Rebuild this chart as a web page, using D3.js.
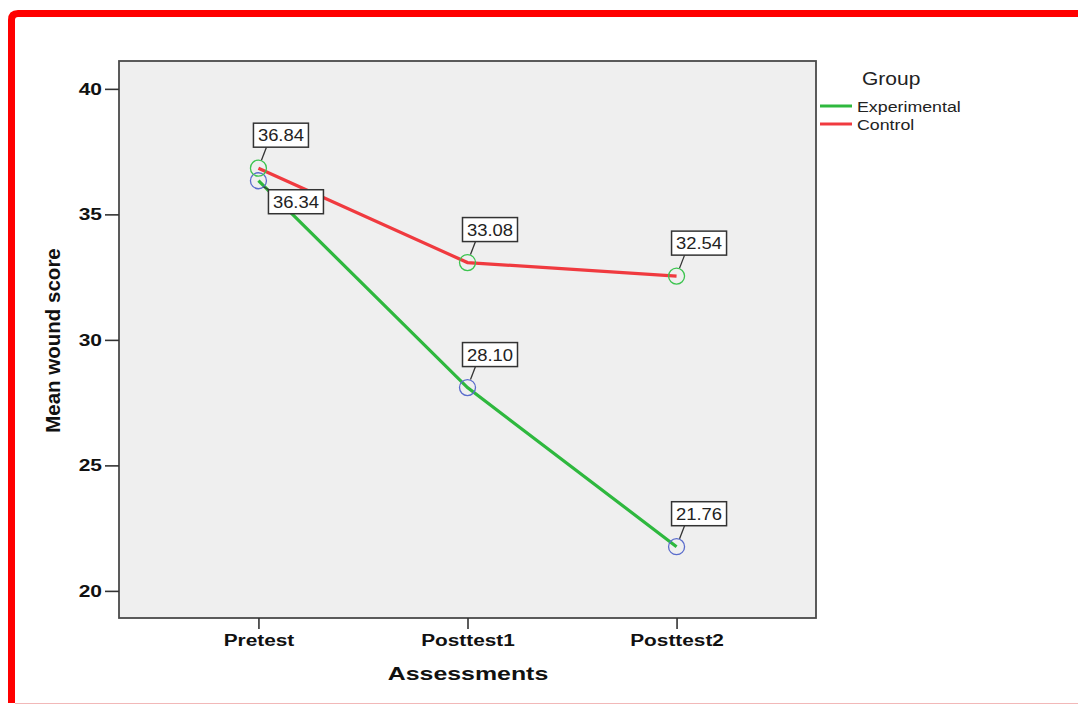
<!DOCTYPE html>
<html><head><meta charset="utf-8">
<script src="https://cdn.jsdelivr.net/npm/d3@7"></script>
<style>body{margin:0;background:#fff}svg{display:block}</style>
</head><body>
<svg id="c" width="1078" height="704"></svg>
<script>
const categories = ["Pretest", "Posttest1", "Posttest2"];
const experimental = [36.34, 28.10, 21.76];
const control = [36.84, 33.08, 32.54];
const yTicks = [20, 25, 30, 35, 40];
const seriesNames = ["Experimental", "Control"];

const font = "Liberation Sans, Arial, sans-serif";
// the reference is horizontally stretched; widen text glyphs accordingly
function stretch(sel, sx) {
  sel.each(function () {
    const w = this.getComputedTextLength();
    d3.select(this).attr("textLength", w * sx).attr("lengthAdjust", "spacingAndGlyphs");
  });
  return sel;
}

const svg = d3.select("#c");
// red frame
svg.append("path")
  .attr("d", "M11.5,703 L11.5,20 Q11.5,13.5 18,13.5 L1080,13.5")
  .attr("fill", "none").attr("stroke", "#ff0000").attr("stroke-width", 7);
svg.append("line").attr("x1", 15).attr("x2", 1078).attr("y1", 703.5).attr("y2", 703.5)
  .attr("stroke", "#f2b8b8").attr("stroke-width", 1);

const L = 119, R = 816, T = 61, B = 618;
const x = d3.scalePoint().domain(categories).range([L, R]).padding(0.667);
const y = d3.scaleLinear().domain([18.92, 41.11]).range([B, T]);

svg.append("rect").attr("x", L).attr("y", T).attr("width", R - L).attr("height", B - T)
  .attr("fill", "#efefef").attr("stroke", "#4a4a4a").attr("stroke-width", 1.8);

// y axis
const ya = svg.append("g").attr("transform", `translate(${L},0)`)
  .call(d3.axisLeft(y).tickValues(yTicks).tickSize(14).tickPadding(3));
ya.select(".domain").remove();
ya.selectAll("line").attr("stroke", "#333").attr("stroke-width", 1.6);
ya.selectAll("text").attr("font-family", font)
  .attr("font-size", 16.5).attr("font-weight", "bold").attr("fill", "#111");
stretch(ya.selectAll("text"), 1.27);

// x axis
const xa = svg.append("g").attr("transform", `translate(0,${B})`)
  .call(d3.axisBottom(x).tickSize(11).tickPadding(6));
xa.select(".domain").remove();
xa.selectAll("line").attr("stroke", "#333").attr("stroke-width", 1.6);
xa.selectAll("text").attr("font-family", font)
  .attr("font-size", 16).attr("font-weight", "bold").attr("fill", "#111");
stretch(xa.selectAll("text"), 1.3);

stretch(svg.append("text").attr("x", 468).attr("y", 680).attr("text-anchor", "middle")
  .attr("font-family", font).attr("font-size", 19)
  .attr("font-weight", "bold").attr("fill", "#111").text("Assessments"), 1.31);
svg.append("text").attr("transform", "translate(60,340.5) rotate(-90)").attr("text-anchor", "middle")
  .attr("font-family", font).attr("font-size", 20.5)
  .attr("font-weight", "bold").attr("fill", "#111").text("Mean wound score");

const series = [
  {name: seriesNames[0], values: experimental, line: "#2eb83e", marker: "#5a6ccc"},
  {name: seriesNames[1], values: control, line: "#f03a3f", marker: "#3cc44f"}
];
const lineGen = d3.line().x((d, i) => x(categories[i])).y(d => y(d));
series.forEach(s => {
  svg.append("path").attr("d", lineGen(s.values)).attr("fill", "none")
    .attr("stroke", s.line).attr("stroke-width", 3.2);
});
series.forEach(s => {
  svg.selectAll(null).data(s.values).enter().append("circle")
    .attr("cx", (d, i) => x(categories[i])).attr("cy", d => y(d)).attr("r", 8)
    .attr("fill", "none").attr("stroke", s.marker).attr("stroke-width", 1.3);
});

// value labels
series.forEach((s, si) => {
  s.values.forEach((v, i) => {
    const px = x(categories[i]), py = y(v);
    const other = series[1 - si].values[i];
    const below = Math.abs(other - v) < 2 && v < other;
    const w = 55, h = 24;
    let bx, by, cx1, cy1, cx2, cy2;
    if (below) {
      bx = px + 10; by = py + 9;
      cx1 = px + 5; cy1 = py + 6; cx2 = bx + 4; cy2 = by + 2;
    } else {
      bx = px - 5; by = py - 45;
      cx1 = px + 3; cy1 = py - 8; cx2 = px + 8; cy2 = by + h;
    }
    svg.append("line").attr("x1", cx1).attr("y1", cy1).attr("x2", cx2).attr("y2", cy2)
      .attr("stroke", "#333").attr("stroke-width", 1.3);
    svg.append("rect").attr("x", bx).attr("y", by).attr("width", w).attr("height", h)
      .attr("fill", "#fff").attr("stroke", "#333").attr("stroke-width", 1.5);
    stretch(svg.append("text").attr("x", bx + w / 2).attr("y", by + h / 2 + 6)
      .attr("text-anchor", "middle").attr("font-family", font).attr("font-size", 16)
      .attr("fill", "#222").text(v.toFixed(2)), 1.15);
  });
});

// legend
stretch(svg.append("text").attr("x", 862).attr("y", 85).attr("font-family", font)
  .attr("font-size", 17.5).attr("fill", "#222").text("Group"), 1.2);
series.forEach((s, i) => {
  const ly = 106 + i * 18;
  svg.append("line").attr("x1", 820).attr("x2", 852).attr("y1", ly).attr("y2", ly)
    .attr("stroke", s.line).attr("stroke-width", 3);
  stretch(svg.append("text").attr("x", 857).attr("y", ly + 6).attr("font-family", font)
    .attr("font-size", 14).attr("fill", "#222").text(s.name), 1.27);
});
</script>
</body></html>
